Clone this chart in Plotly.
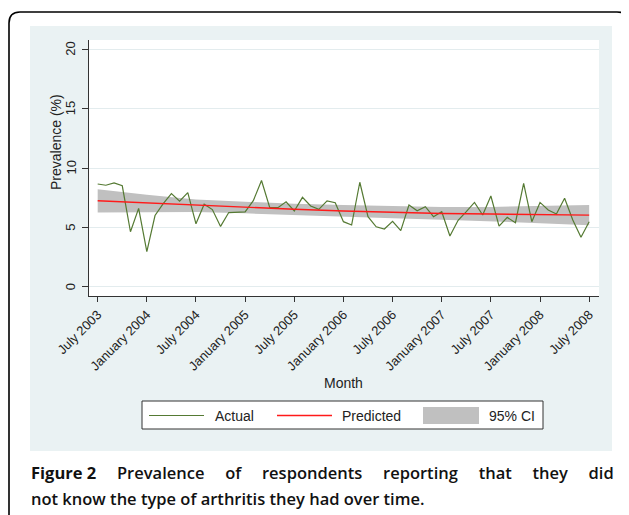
import plotly.graph_objects as go

# The page body has an 8px margin, so the figure is drawn 8px smaller and all
# reference pixel positions below are expressed in window coordinates.
OFF = 8
W, H = 629 - OFF, 515 - OFF
# plot-area box in window pixels
L, R, T, B = 89, 599, 40, 296


def px(x):
    return (x - L) / (R - L)


def py(y):
    return (B - y) / (B - T)


# ---------------- data ----------------
tick_labels = ["July 2003", "January 2004", "July 2004", "January 2005", "July 2005",
               "January 2006", "July 2006", "January 2007", "July 2007", "January 2008",
               "July 2008"]
tick_months = [0, 6, 12, 18, 24, 30, 36, 42, 48, 54, 60]

actual = [8.65, 8.55, 8.75, 8.5, 4.63, 6.6, 2.95, 6.0, 7.0, 7.85,
          7.2, 7.92, 5.3, 6.95, 6.5, 5.08, 6.25, 6.28, 6.3, 7.25,
          8.95, 6.68, 6.66, 7.15, 6.38, 7.53, 6.8, 6.52, 7.23, 7.08,
          5.48, 5.2, 8.8, 5.9, 5.05, 4.86, 5.5, 4.72, 6.88, 6.4,
          6.74, 5.9, 6.32, 4.27, 5.6, 6.32, 7.1, 6.04, 7.64, 5.11,
          5.84, 5.39, 8.71, 5.48, 7.1, 6.46, 6.12, 7.45, 5.62, 4.16,
          5.48]
month_index = list(range(len(actual)))

# predicted values and 95% CI read at the tick months
predicted = [7.24, 7.05, 6.85, 6.66, 6.52, 6.38, 6.27, 6.17, 6.12, 6.08, 6.03]
ci_upper = [8.22, 7.75, 7.35, 7.15, 6.98, 6.88, 6.78, 6.72, 6.72, 6.82, 6.88]
ci_lower = [6.25, 6.30, 6.30, 6.18, 6.02, 5.87, 5.76, 5.65, 5.52, 5.35, 5.18]

y_ticks = [0, 5, 10, 15, 20]
legend_names = ["Actual", "Predicted", "95% CI"]

GREEN = "#557a33"
RED = "#ff1a1a"
BAND = "#c0c0c0"
PANEL = "#eaf2f3"
AXIS = "#333333"
FONT = "Liberation Sans, Arial, sans-serif"
CAP_FONT = "Open Sans, sans-serif"

fig = go.Figure()
fig.add_trace(go.Scatter(x=tick_months, y=ci_upper, mode="lines", line=dict(width=0),
                         showlegend=False, hoverinfo="skip"))
fig.add_trace(go.Scatter(x=tick_months, y=ci_lower, mode="lines", line=dict(width=0),
                         fill="tonexty", fillcolor=BAND, name=legend_names[2], showlegend=False))
fig.add_trace(go.Scatter(x=month_index, y=actual, mode="lines",
                         line=dict(color=GREEN, width=1.2), name=legend_names[0], showlegend=False))
fig.add_trace(go.Scatter(x=tick_months, y=predicted, mode="lines",
                         line=dict(color=RED, width=1.4), name=legend_names[1], showlegend=False))

P = dict(xref="paper", yref="paper")
shapes = [
    # light panel (graph region)
    dict(type="rect", **P, x0=px(30), x1=px(612), y0=py(26), y1=py(451),
         fillcolor=PANEL, line=dict(width=0), layer="below"),
    # white plot region
    dict(type="rect", **P, x0=px(L), x1=px(R), y0=py(B), y1=py(T),
         fillcolor="white", line=dict(width=0), layer="below"),
    # outer rounded frame
    dict(type="path", **P, layer="below",
         path=(f"M {px(9)},{py(530)} L {px(9)},{py(23)} Q {px(9)},{py(12)} {px(20)},{py(12)} "
               f"L {px(617)},{py(12)} Q {px(628)},{py(12)} {px(628)},{py(23)} L {px(628)},{py(530)}"),
         line=dict(color="black", width=1.6)),
    # legend box and keys
    dict(type="rect", **P, x0=px(142), x1=px(543), y0=py(429), y1=py(401),
         fillcolor="white", line=dict(color=AXIS, width=1)),
    dict(type="line", **P, x0=px(149), x1=px(204), y0=py(415.5), y1=py(415.5),
         line=dict(color=GREEN, width=1.2)),
    dict(type="line", **P, x0=px(277), x1=px(332), y0=py(415.5), y1=py(415.5),
         line=dict(color=RED, width=1.4)),
    dict(type="rect", **P, x0=px(423), x1=px(479), y0=py(424), y1=py(407),
         fillcolor=BAND, line=dict(width=0)),
]

annotations = [
    dict(text="Prevalence (%)", **P, x=px(56), y=py(142),
         textangle=-90, showarrow=False, font=dict(family=FONT, size=14, color="#222"),
         xanchor="center", yanchor="middle"),
    dict(text="Month", **P, x=px(343), y=py(383),
         showarrow=False, font=dict(family=FONT, size=14, color="#222"),
         xanchor="center", yanchor="middle"),
]
# rotated y tick labels
for v in y_ticks:
    annotations.append(dict(text=str(v), xref="paper", yref="y", x=px(70.5), y=v,
                            textangle=-90, showarrow=False, xanchor="center", yanchor="middle",
                            font=dict(family=FONT, size=13, color="#222")))
for name, x in zip(legend_names, [213, 340, 487]):
    annotations.append(dict(text=name, **P, x=px(x), y=py(416), xanchor="left", yanchor="middle",
                            showarrow=False, font=dict(family=FONT, size=14, color="#222")))

# caption, first line justified across the panel width
gap = " \u2002\u2009\u2009\u2009"
line1 = "<b>Figure 2</b>" + gap + gap.join(
    ["Prevalence", "of", "respondents", "reporting", "that", "they", "did"])
annotations.append(dict(text=line1, **P, x=px(29), y=py(472), xanchor="left", yanchor="middle",
                        showarrow=False,
                        font=dict(family=CAP_FONT, size=16.5, color="#111", weight=600)))
annotations.append(dict(text="not know the type of arthritis they had over time.", **P,
                        x=px(29), y=py(498), xanchor="left", yanchor="middle", showarrow=False,
                        font=dict(family=CAP_FONT, size=16.5, color="#111", weight=600)))

fig.update_layout(
    width=W, height=H,
    margin=dict(l=L - OFF, r=W + OFF - R, t=T - OFF, b=H + OFF - B, autoexpand=False),
    paper_bgcolor="white", plot_bgcolor="rgba(0,0,0,0)",
    shapes=shapes, annotations=annotations,
    showlegend=False,
    xaxis=dict(range=[-1.06, 61.2], tickvals=tick_months, ticktext=tick_labels,
               tickangle=-45, ticks="outside", ticklen=5, tickcolor=AXIS,
               showline=True, linecolor=AXIS, linewidth=1, showgrid=False, zeroline=False,
               tickfont=dict(family=FONT, size=13, color="#222"), automargin=False),
    yaxis=dict(range=[-0.78, 20.78], tickvals=y_ticks, showticklabels=False, ticks="outside",
               ticklen=6, tickcolor=AXIS, showline=True, linecolor=AXIS, linewidth=1,
               showgrid=True, gridcolor="#e3ecee", gridwidth=1, zeroline=False,
               automargin=False),
)

fig.write_html("out.html")
